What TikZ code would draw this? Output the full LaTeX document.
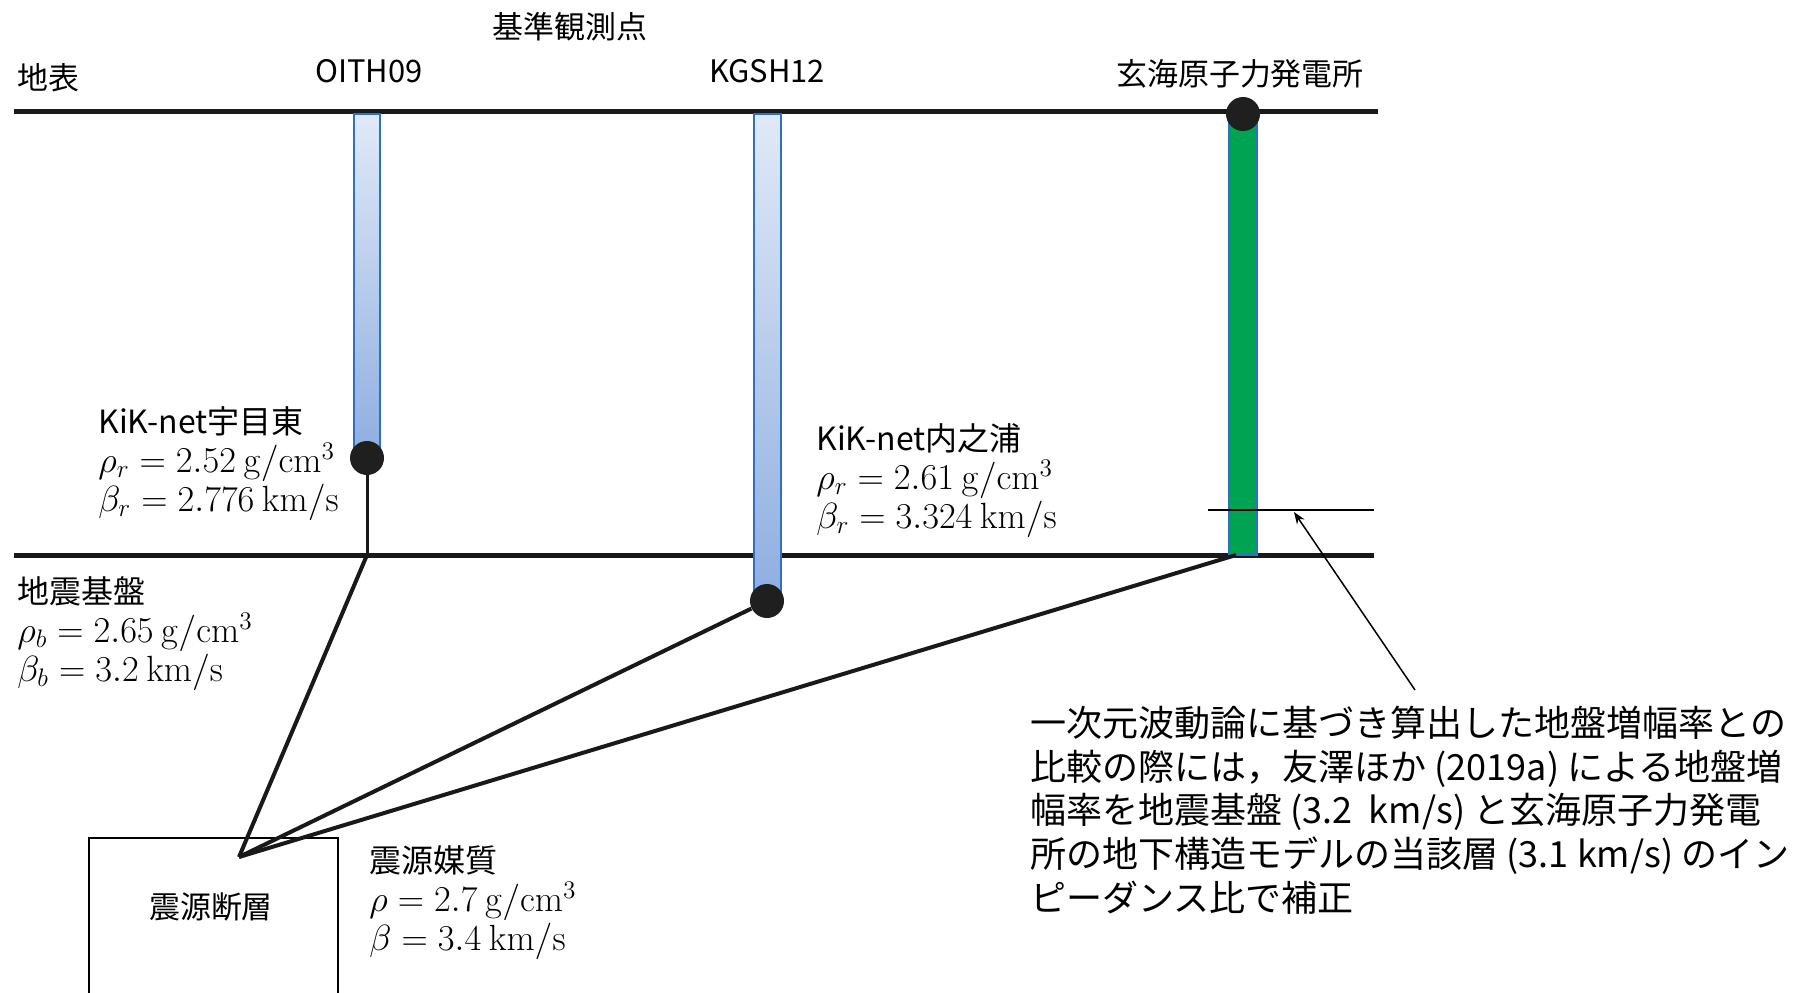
\documentclass[tikz,border=0pt]{standalone}
\usepackage[no-math]{fontspec}
\setmainfont{Noto Sans CJK JP}
\usetikzlibrary{
		calc,
		positioning,
		arrows.meta
	}
\tikzset{
		>=Stealth
	}
\definecolor{holeline}{HTML}{2F6FC6}
\definecolor{holetop}{HTML}{E0EAF7}
\definecolor{holebot}{HTML}{8EADE0}
\definecolor{plantgreen}{HTML}{00A352}
\newcommand{\soilval}[3]{{\fontsize{19.2}{22.2}\selectfont$#1 = #2~\mathrm{#3}$}}

\begin{document}
\begin{tikzpicture}[x=0.2mm, y=-0.2mm,
	lbl/.style={inner sep=0, font=\fontsize{17.6}{21}\selectfont},
	block/.style={inner sep=0, align=left, font=\fontsize{18.2}{22.2}\selectfont},
	note/.style={inner sep=0, align=left, font=\fontsize{20.5}{24.8}\selectfont},
	surface/.style={line width=1mm, black!90},
	ray/.style={line width=0.8mm, black!90},
	hole/.style={draw=holeline, line width=0.4mm, top color=holetop, bottom color=holebot},
	plant/.style={draw=holeline, line width=0.4mm, fill=plantgreen},
	station/.style={circle, fill=black!88, minimum size=6.8mm, inner sep=0}]
	\useasboundingbox (0,0) rectangle (1799,993);
	% layer lines
	\draw[surface] (14,112) -- (1378,112);
	\draw[surface] (14,555) -- (1374,555);
	\node[lbl, anchor=west] (ground) at (17,78) {地表};
	\node[lbl] (refpts) at (570,27) {基準観測点};
	\node[lbl] (oith) at (369,71) {OITH09};
	\node[lbl] (kgsh) at (767,71) {KGSH12};
	\node[lbl] (genkai) at (1240,74) {玄海原子力発電所};
	% boreholes
	\draw[hole] (354,114) rectangle (380,458);
	\draw[hole] (754,114) rectangle (781,601);
	\draw[plant] (1229,114) rectangle (1257,555);
	\coordinate (baseA) at (367,555);
	\coordinate (baseC) at (1236,555);
	\node[station] (dotA) at (367,458) {};
	\node[station] (dotB) at (767,601) {};
	\node[station] (dotC) at (1243,114) {};
	\draw[line width=0.6mm, black!90] (dotA) -- (baseA);
	% source fault
	\draw[line width=0.3mm] (89,1010) -- (89,838) -- (338,838) -- (338,1010);
	\node[lbl] (fault) at (211,907) {震源断層};
	\coordinate (hypo) at (239,857);
	\draw[ray] (hypo) -- (baseA);
	\draw[ray] (hypo) -- (dotB);
	\draw[ray] (hypo) -- (baseC);
	% layer marker and note
	\coordinate (markL) at (1208,510);
	\coordinate (markR) at (1374,510);
	\draw[line width=0.3mm] (markL) -- (markR);
	\coordinate (notept) at (1415,690);
	\draw[->, line width=0.3mm] (notept) -- (1294,512);
	% texts
	\node[block, anchor=north west] (stA) at (98,406)
		{KiK-net宇目東\\ \soilval{\rho_r}{2.52}{g/cm^3}\\ \soilval{\beta_r}{2.776}{km/s}};
	\node[block, anchor=north west] (stB) at (816,423)
		{KiK-net内之浦\\ \soilval{\rho_r}{2.61}{g/cm^3}\\ \soilval{\beta_r}{3.324}{km/s}};
	\node[block, anchor=north west] (bedrock) at (17,576)
		{地震基盤\\ \soilval{\rho_b}{2.65}{g/cm^3}\\ \soilval{\beta_b}{3.2}{km/s}};
	\node[block, anchor=north west] (medium) at (369,845)
		{震源媒質\\ \soilval{\rho}{2.7}{g/cm^3}\\ \soilval{\beta}{3.4}{km/s}};
	\node[note, anchor=north west] (remark) at (1030,706)
		{一次元波動論に基づき算出した地盤増幅率との\\
		 比較の際には，友澤ほか (2019a) による地盤増\\
		 幅率を地震基盤 (3.2\ \ km/s) と玄海原子力発電\\
		 所の地下構造モデルの当該層 (3.1 km/s) のイン\\
		 ピーダンス比で補正};
\end{tikzpicture}
\end{document}
